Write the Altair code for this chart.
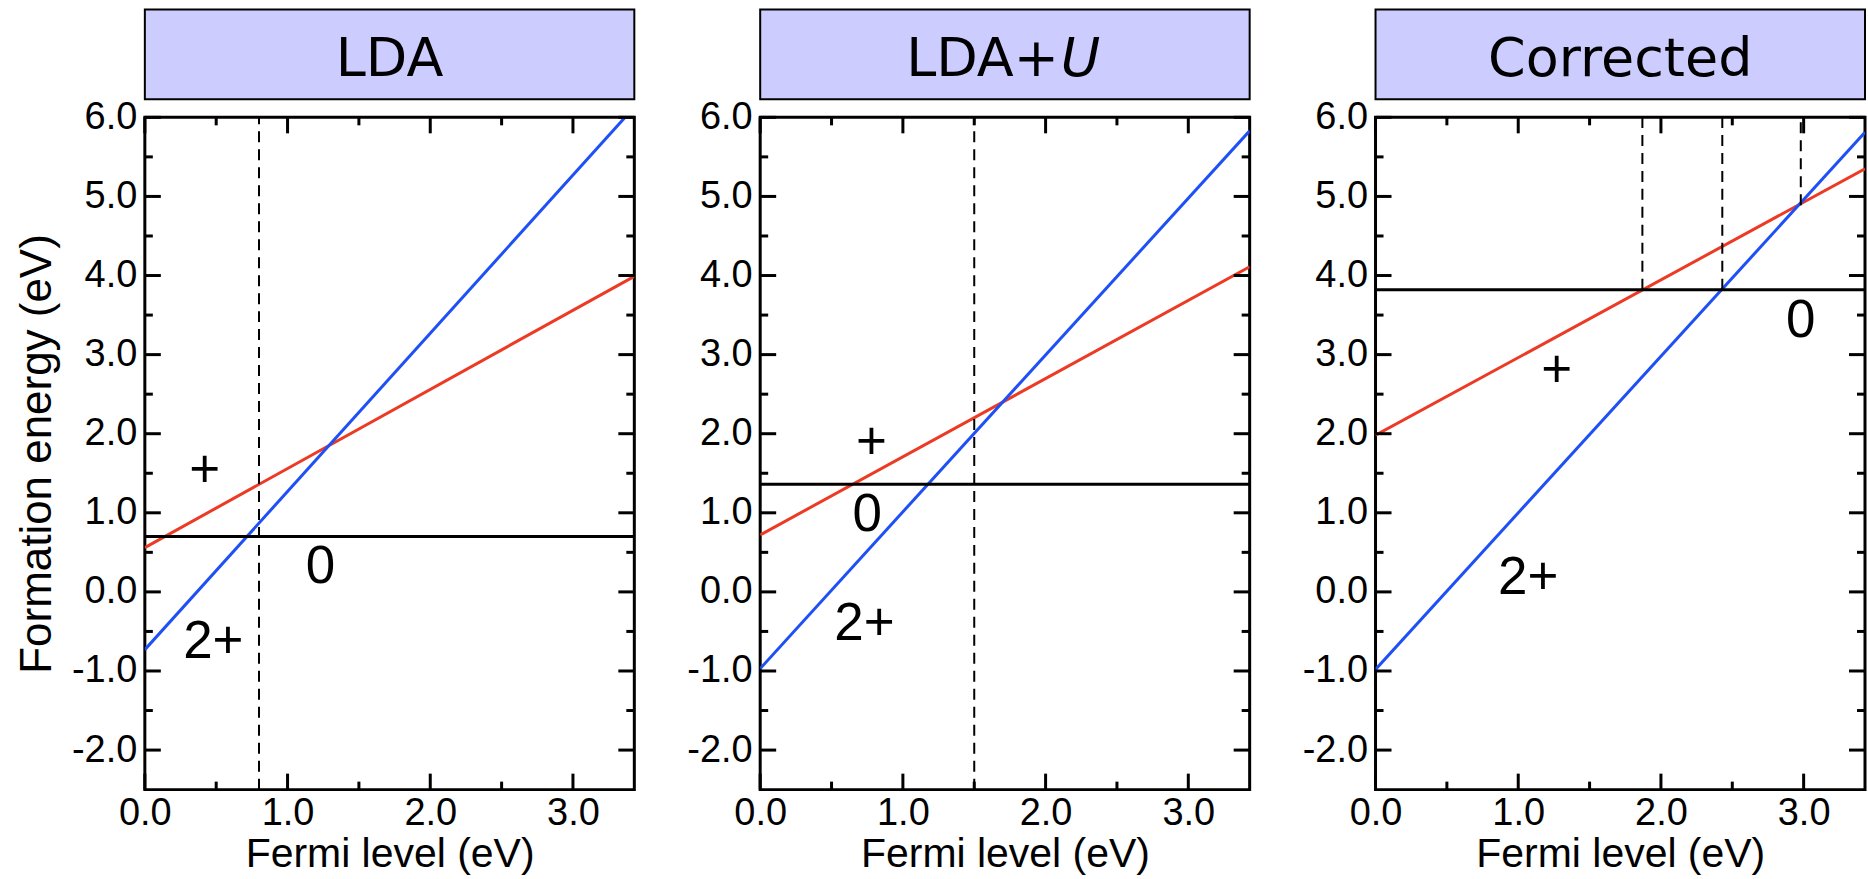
import altair as alt
import pandas as pd

# ---------------- data ----------------
panel_names = ["LDA", "LDA+U", "Corrected"]
title_plain = ["LDA", "LDA+", "Corrected"]
title_italic = ["", "U", ""]

fermi_ends = [0.0, 3.43]
red_start = [0.56, 0.72, 1.98]     # charge + line at Fermi level 0
red_end = [3.99, 4.11, 5.35]       # charge + line at Fermi level 3.43
blue_start = [-0.73, -0.97, -0.98]  # charge 2+ line
blue_end = [6.13, 5.83, 5.81]
neutral_level = [0.70, 1.36, 3.82]  # charge 0 (horizontal)

dash_panel = [0, 1, 2, 2, 2]
dash_x = [0.80, 1.50, 1.87, 2.43, 2.98]
dash_low = [-2.5, -2.5, 3.82, 3.82, 4.89]
dash_high = [6.0, 6.0, 6.0, 6.0, 6.0]

label_panel = [0, 0, 0, 1, 1, 1, 2, 2, 2]
label_text = ["+", "0", "2+", "+", "0", "2+", "+", "0", "2+"]
label_x = [0.42, 1.23, 0.48, 0.78, 0.75, 0.73, 1.27, 2.98, 1.07]
label_y = [1.53, 0.31, -0.64, 1.88, 0.97, -0.41, 2.79, 3.42, 0.18]

x_major = [0.0, 1.0, 2.0, 3.0]
x_minor = [0.5, 1.5, 2.5]
y_major = [-2.0, -1.0, 0.0, 1.0, 2.0, 3.0, 4.0, 5.0, 6.0]
y_minor = [-1.5, -0.5, 0.5, 1.5, 2.5, 3.5, 4.5, 5.5]
x_domain = [0.0, 3.43]
y_domain = [-2.5, 6.0]

# ---------------- styles ----------------
W, H = 490, 673
HEAD_H = 90
RED = "#EC3A24"
BLUE = "#1E50F5"
NUM_FONT = "Liberation Sans"
HEAD_FONT = "DejaVu Sans"
MAJ, MIN = 16, 8
LABEL_EXPR = "(datum.value < 0 ? '-' : '') + format(abs(datum.value), '.1f')"


def header(i):
    df = pd.DataFrame({"t": [title_plain[i]]})
    if title_italic[i]:
        df2 = pd.DataFrame({"t": [title_italic[i]]})
        a = alt.Chart(df).mark_text(font=HEAD_FONT, fontSize=54, align="right",
                                    baseline="alphabetic", color="black").encode(
            x=alt.value(299), y=alt.value(67), text="t:N")
        b = alt.Chart(df2).mark_text(font=HEAD_FONT, fontSize=54, align="left",
                                     baseline="alphabetic", fontStyle="italic",
                                     color="black").encode(
            x=alt.value(301), y=alt.value(67), text="t:N")
        ch = alt.layer(a, b)
    else:
        ch = alt.Chart(df).mark_text(font=HEAD_FONT, fontSize=54, align="center",
                                     baseline="alphabetic", color="black").encode(
            x=alt.value(W / 2), y=alt.value(67), text="t:N")
    return ch.properties(width=W, height=HEAD_H,
                         view=alt.ViewBackground(fill="#CCCCFF", stroke="black",
                                                 strokeWidth=2))


def plot(i):
    xs = alt.Scale(domain=x_domain, nice=False, zero=False)
    ys = alt.Scale(domain=y_domain, nice=False, zero=False)
    xaxis = alt.Axis(values=x_major, domain=False, ticks=False, grid=False,
                     labelExpr=LABEL_EXPR, labelFlush=False, labelOverlap=False,
                     labelPadding=5, titleBaseline="alphabetic",
                     titleX=W / 2, titleY=77)
    if i == 0:
        yaxis = alt.Axis(values=y_major, domain=False, ticks=False, grid=False,
                         labelExpr=LABEL_EXPR, labelFlush=False, labelOverlap=False,
                         labelPadding=8, titleBaseline="alphabetic",
                         titleX=-94, titleY=H / 2)
        ytitle = "Formation energy (eV)"
    else:
        yaxis = alt.Axis(values=y_major, domain=False, ticks=False, grid=False,
                         labelExpr=LABEL_EXPR, labelFlush=False, labelOverlap=False,
                         labelPadding=8)
        ytitle = None

    lines = pd.DataFrame({
        "x": fermi_ends + fermi_ends,
        "y": [red_start[i], red_end[i], blue_start[i], blue_end[i]],
        "series": ["+", "+", "2+", "2+"],
    })
    base_lines = alt.Chart(lines).mark_line(strokeWidth=3, clip=True).encode(
        x=alt.X("x:Q", scale=xs, axis=xaxis, title="Fermi level (eV)"),
        y=alt.Y("y:Q", scale=ys, axis=yaxis, title=ytitle),
        color=alt.Color("series:N", scale=alt.Scale(domain=["+", "2+"], range=[RED, BLUE]),
                        legend=None),
        detail="series:N",
    )

    neutral = alt.Chart(pd.DataFrame({"y": [neutral_level[i]]})).mark_rule(
        color="black", strokeWidth=3).encode(y=alt.Y("y:Q", scale=ys))

    dd = pd.DataFrame({"p": dash_panel, "x": dash_x, "lo": dash_low, "hi": dash_high})
    dd = dd[dd["p"] == i]
    dashed = alt.Chart(dd).mark_rule(color="black", strokeWidth=2,
                                      strokeDash=[11, 7]).encode(
        x=alt.X("x:Q", scale=xs), y=alt.Y("lo:Q", scale=ys), y2="hi:Q")

    ld = pd.DataFrame({"p": label_panel, "t": label_text, "x": label_x, "y": label_y})
    ld = ld[ld["p"] == i]
    labels = alt.Chart(ld).mark_text(font=NUM_FONT, fontSize=53, color="black",
                                     align="center", baseline="middle").encode(
        x=alt.X("x:Q", scale=xs), y=alt.Y("y:Q", scale=ys), text="t:N")

    xmaj = alt.Chart(pd.DataFrame({"v": x_major}))
    xmin = alt.Chart(pd.DataFrame({"v": x_minor}))
    ymaj = alt.Chart(pd.DataFrame({"v": y_major}))
    ymin = alt.Chart(pd.DataFrame({"v": y_minor}))
    tk = dict(color="black", strokeWidth=3)
    ticks = [
        xmaj.mark_rule(**tk).encode(x=alt.X("v:Q", scale=xs), y=alt.value(H), y2=alt.value(H - MAJ)),
        xmaj.mark_rule(**tk).encode(x=alt.X("v:Q", scale=xs), y=alt.value(0), y2=alt.value(MAJ)),
        xmin.mark_rule(**tk).encode(x=alt.X("v:Q", scale=xs), y=alt.value(H), y2=alt.value(H - MIN)),
        xmin.mark_rule(**tk).encode(x=alt.X("v:Q", scale=xs), y=alt.value(0), y2=alt.value(MIN)),
        ymaj.mark_rule(**tk).encode(y=alt.Y("v:Q", scale=ys), x=alt.value(0), x2=alt.value(MAJ)),
        ymaj.mark_rule(**tk).encode(y=alt.Y("v:Q", scale=ys), x=alt.value(W), x2=alt.value(W - MAJ)),
        ymin.mark_rule(**tk).encode(y=alt.Y("v:Q", scale=ys), x=alt.value(0), x2=alt.value(MIN)),
        ymin.mark_rule(**tk).encode(y=alt.Y("v:Q", scale=ys), x=alt.value(W), x2=alt.value(W - MIN)),
    ]

    return alt.layer(base_lines, neutral, dashed, labels, *ticks).properties(
        width=W, height=H,
        view=alt.ViewBackground(stroke="black", strokeWidth=3, fill="white"))


chart = alt.concat(
    header(0), header(1), header(2), plot(0), plot(1), plot(2),
    columns=3,
    spacing={"row": 18, "column": 126},
    bounds="flush",
).properties(
    padding={"left": 14, "top": 8, "right": 0, "bottom": 0},
    background="white",
).configure_axis(
    labelFont=NUM_FONT, labelFontSize=38, labelColor="black",
    titleFont=NUM_FONT, titleFontSize=41, titleColor="black", titleFontWeight="normal",
).configure_axisY(
    titleFontSize=44,
)

chart.save("out.html", embed_options={"renderer": "svg", "actions": False})
